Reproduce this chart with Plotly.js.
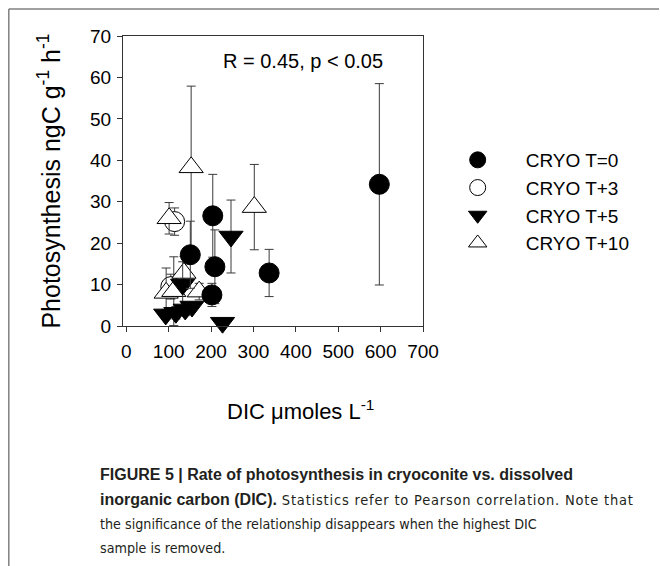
<!DOCTYPE html>
<html>
<head>
<meta charset="utf-8">
<script src="https://cdn.plot.ly/plotly-3.0.1.min.js"></script>
<style>
html,body{margin:0;padding:0;background:#fff;}
#chart{width:660px;height:566px;}
</style>
</head>
<body>
<div id="chart"></div>
<script>
// Data
const seriesNames = ["CRYO T=0", "CRYO T+3", "CRYO T+5", "CRYO T+10"];

const dicT0 = [151, 204, 209, 202, 337, 597];
const photoT0 = [17.2, 26.6, 14.3, 7.5, 12.8, 34.2];
const errT0 = [8.1, 10.0, 8.9, 2.8, 5.7, 24.3];

const dicT3 = [114, 105];
const photoT3 = [25.2, 9.5];
const errT3 = [3.3, 3.0];

const dicT5 = [93, 117, 139, 155, 133, 247, 227];
const photoT5 = [2.8, 3.2, 4.0, 4.7, 10.0, 21.6, 0.8];
const errT5 = [1.2, 1.5, 1.5, 1.0, 5.5, 8.8, 0.8];

const dicT10 = [153, 302, 101, 94, 112, 136, 172];
const photoT10 = [38.3, 28.7, 26.0, 8.0, 8.4, 12.8, 8.3];
const errT10 = [19.6, 10.3, 3.8, 6.0, 8.3, 4.0, 2.0];

const xTickVals = [0, 100, 200, 300, 400, 500, 600, 700];
const yTickVals = [0, 10, 20, 30, 40, 50, 60, 70];

const xTitle = 'DIC \u03bcmoles L<sup>-1</sup>';
const yTitle = 'Photosynthesis ngC g<sup>-1</sup> h<sup>-1</sup>';
const statText = "R = 0.45, p < 0.05";
const B = '<b><span style="font-family:Arial;font-size:16px">';
const captionLines = [
  B + "FIGURE 5 | Rate of photosynthesis in cryoconite vs. dissolved</span></b>",
  B + "inorganic carbon (DIC).</span></b>" +
    '<span style="font-size:14.5px;letter-spacing:0.8px"> Statistics refer to Pearson correlation. Note that</span>',
  "the significance of the relationship disappears when the highest DIC",
  "sample is removed."
];

// Layout geometry (pixels)
const W = 660, H = 566;
const plotL = 122.5, plotR = 423.3, plotT = 36, plotB = 326;
const pw = plotR - plotL, ph = plotB - plotT;
const px = v => (v - plotL) / pw;
const py = v => (plotB - v) / ph;

function errBar(arr) {
  return {type: 'data', array: arr, visible: true, color: '#3a3a3a', thickness: 1, width: 4.5};
}

const traces = [
  {
    name: seriesNames[1], x: dicT3, y: photoT3, error_y: errBar(errT3),
    type: 'scatter', mode: 'markers', legendrank: 2, cliponaxis: false,
    marker: {symbol: 'circle', size: 20, color: '#ffffff', line: {color: '#000000', width: 1}}
  },
  {
    name: seriesNames[3], x: dicT10, y: photoT10, error_y: errBar(errT10),
    type: 'scatter', mode: 'markers', legendrank: 4, cliponaxis: false,
    marker: {symbol: 'triangle-up', size: 21, color: '#ffffff', line: {color: '#000000', width: 1}}
  },
  {
    name: seriesNames[2], x: dicT5, y: photoT5, error_y: errBar(errT5),
    type: 'scatter', mode: 'markers', legendrank: 3, cliponaxis: false,
    marker: {symbol: 'triangle-down', size: 21, color: '#000000', line: {color: '#000000', width: 1}}
  },
  {
    name: seriesNames[0], x: dicT0, y: photoT0, error_y: errBar(errT0),
    type: 'scatter', mode: 'markers', legendrank: 1, cliponaxis: false,
    marker: {symbol: 'circle', size: 20, color: '#000000', line: {color: '#000000', width: 1}}
  }
];

const annotations = [
  {xref: 'paper', yref: 'paper', x: px(303), y: py(61), text: statText, showarrow: false,
   xanchor: 'center', yanchor: 'middle', font: {family: 'Arial, Liberation Sans, sans-serif', size: 20, color: '#000'}},
  {xref: 'paper', yref: 'paper', x: px(300), y: py(410), text: xTitle, showarrow: false,
   xanchor: 'center', yanchor: 'middle', font: {family: 'Arial, Liberation Sans, sans-serif', size: 22, color: '#000'}}
];
const capY = [474, 499, 524, 548];
captionLines.forEach((t, i) => {
  annotations.push({xref: 'paper', yref: 'paper', x: px(97), y: py(capY[i]), text: t, showarrow: false,
    xanchor: 'left', yanchor: 'middle', align: 'left',
    font: {family: 'DejaVu Sans Condensed, Liberation Sans Narrow, sans-serif', size: 14.2, color: '#231f20'}});
});

const layout = {
  width: W, height: H,
  margin: {l: plotL, r: W - plotR, t: plotT, b: H - plotB, pad: 0},
  paper_bgcolor: '#ffffff', plot_bgcolor: '#ffffff',
  font: {family: 'Arial, Liberation Sans, sans-serif', color: '#000'},
  showlegend: true,
  legend: {
    x: px(430), y: py(141), xanchor: 'left', yanchor: 'top',
    font: {size: 19, family: 'Arial, Liberation Sans, sans-serif', color: '#000'},
    bgcolor: 'rgba(0,0,0,0)', borderwidth: 0, tracegroupgap: 0, itemsizing: 'trace', itemwidth: 86
  },
  xaxis: {
    range: [-7.8, 700], tickmode: 'array', tickvals: xTickVals,
    showgrid: false, zeroline: false, showline: true, linecolor: '#333333', linewidth: 1, mirror: true,
    ticks: 'outside', ticklen: 5, tickcolor: '#333333', tickfont: {size: 19},
    ticklabelstandoff: 3,
    automargin: false
  },
  yaxis: {
    range: [0, 70], tickmode: 'array', tickvals: yTickVals,
    showgrid: false, zeroline: false, showline: true, linecolor: '#333333', linewidth: 1, mirror: true,
    ticks: 'outside', ticklen: 5, tickcolor: '#333333', tickfont: {size: 19},
    ticklabelstandoff: 2,
    title: {text: yTitle, font: {size: 25}, standoff: 22},
    automargin: false
  },
  annotations: annotations,
  shapes: [
    {type: 'line', xref: 'paper', yref: 'paper', x0: px(8), y0: py(9), x1: px(660), y1: py(9), line: {color: '#808080', width: 1.5}},
    {type: 'line', xref: 'paper', yref: 'paper', x0: px(8), y0: py(9), x1: px(8), y1: py(566), line: {color: '#808080', width: 1.5}}
  ]
};

Plotly.newPlot('chart', traces, layout, {displayModeBar: false, staticPlot: true});
</script>
</body>
</html>
